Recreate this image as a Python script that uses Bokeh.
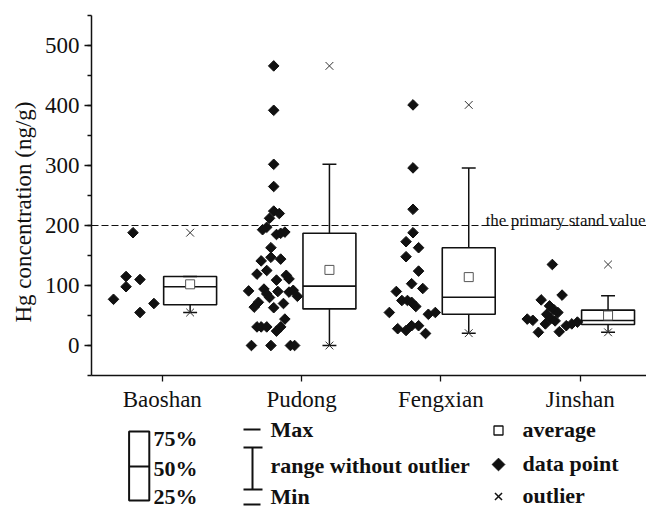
import numpy as np
from bokeh.plotting import figure
from bokeh.models import Range1d, FixedTicker, SingleIntervalTicker, Span, Label, Title
from bokeh.layouts import column
from bokeh.embed import file_html
from bokeh.resources import INLINE
from bokeh.core.properties import value

# ---------------- data ----------------
categories = ["Baoshan", "Pudong", "Fengxian", "Jinshan"]
positions = [1, 2, 3, 4]

baoshan_vals = [188, 115, 110, 98, 77, 70, 55]
baoshan_dx = [-0.21, -0.26, -0.16, -0.26, -0.35, -0.06, -0.16]

pudong_vals = [466, 392, 302, 265, 224, 220, 212, 197, 193, 185, 187, 189, 163,
               141, 147, 144, 125, 119, 109, 117, 111, 91, 94, 86, 80, 90, 89, 92,
               82, 72, 64, 63, 70, 44, 31, 24, 31, 31, 31, 0, 0, 0, 0]
pudong_dx = [-0.20, -0.20, -0.20, -0.20, -0.20, -0.16, -0.23, -0.25, -0.28, -0.18,
             -0.15, -0.12, -0.22, -0.29, -0.22, -0.15, -0.25, -0.32, -0.18, -0.11,
             -0.09, -0.38, -0.27, -0.25, -0.23, -0.17, -0.09, -0.06, -0.03, -0.31,
             -0.34, -0.20, -0.13, -0.12, -0.15, -0.18, -0.32, -0.29, -0.25, -0.36,
             -0.22, -0.08, -0.05]

fengxian_vals = [401, 296, 227, 188, 173, 148, 163, 124, 103, 95, 90, 75, 75, 72,
                 65, 55, 52, 55, 28, 25, 33, 33, 20]
fengxian_dx = [-0.20, -0.20, -0.20, -0.20, -0.25, -0.25, -0.16, -0.16, -0.21, -0.13,
               -0.32, -0.28, -0.24, -0.21, -0.18, -0.37, -0.09, -0.04, -0.31, -0.25,
               -0.21, -0.16, -0.11]

jinshan_vals = [135, 76, 84, 66, 60, 55, 52, 45, 41, 44, 42, 22, 23, 33, 36, 39, 36]
jinshan_dx = [-0.20, -0.28, -0.13, -0.22, -0.19, -0.16, -0.24, -0.21, -0.18, -0.38,
              -0.34, -0.30, -0.15, -0.10, -0.06, -0.02, -0.25]

q1 = [68, 61, 52, 35]
median = [98, 99, 80.5, 41.7]
q3 = [115, 187, 163, 59]
mean = [102, 126, 114, 50]
whisker_low = [55, 0, 20.5, 22]
whisker_high = [115, 302, 296, 83]
outlier_high = [188, 466, 401, 135]

standard_value = 200

# ---------------- styling ----------------
FONT = "Liberation Serif"
INK = "#111111"
box_shift = 0.2
box_half = 0.19
cap_half = 0.05

W = 646
LEFT = 91
p = figure(width=W, height=415, x_range=Range1d(0.492, 4.476), y_range=Range1d(-50, 550),
           toolbar_location=None, output_backend="svg",
           min_border_left=LEFT, min_border_right=0, min_border_top=15, min_border_bottom=40)
p.outline_line_color = None
p.xgrid.visible = False
p.ygrid.visible = False
p.background_fill_color = "white"

# data points
xs, ys = [], []
for pos, vals, dx in [(positions[0], baoshan_vals, baoshan_dx), (positions[1], pudong_vals, pudong_dx),
                      (positions[2], fengxian_vals, fengxian_dx), (positions[3], jinshan_vals, jinshan_dx)]:
    xs += [pos + d for d in dx]
    ys += vals
p.scatter(xs, ys, marker="square", size=7.5, angle=np.pi / 4, fill_color=INK, line_color=INK)

# box plots
bx = np.array(positions) + box_shift
p.quad(left=bx - box_half, right=bx + box_half, top=q3, bottom=q1,
       fill_color=None, line_color=INK, line_width=1.6)
p.segment(x0=bx - box_half, x1=bx + box_half, y0=median, y1=median, line_color=INK, line_width=1.6)
p.segment(x0=bx, x1=bx, y0=q3, y1=whisker_high, line_color=INK, line_width=1.5)
p.segment(x0=bx, x1=bx, y0=q1, y1=whisker_low, line_color=INK, line_width=1.5)
p.segment(x0=bx - cap_half, x1=bx + cap_half, y0=whisker_high, y1=whisker_high, line_color=INK, line_width=1.5)
p.segment(x0=bx - cap_half, x1=bx + cap_half, y0=whisker_low, y1=whisker_low, line_color=INK, line_width=1.5)
p.scatter(bx, mean, marker="square", size=9, fill_color="white", line_color="#555555", line_width=1)
p.scatter(bx, outlier_high, marker="x", size=11, line_color="#333333", line_width=1)
p.scatter(bx, whisker_low, marker="x", size=11, line_color="#333333", line_width=1)

# standard line
p.add_layout(Span(location=standard_value, dimension="width", line_color=INK,
                  line_dash="7 3", line_width=1.2))
p.add_layout(Label(x=4.47, y=208, text="the primary stand value", text_align="right",
                   text_baseline="alphabetic", text_font=FONT, text_font_size="17px",
                   text_color=INK))

# axes
p.yaxis.ticker = SingleIntervalTicker(interval=100, num_minor_ticks=2)
p.xaxis.ticker = FixedTicker(ticks=positions)
p.xaxis.major_label_overrides = {pos: cat for pos, cat in zip(positions, categories)}
for ax in (p.xaxis, p.yaxis):
    ax.axis_line_color = INK
    ax.axis_line_width = 1.5
    ax.major_tick_line_color = INK
    ax.major_tick_line_width = 1.3
    ax.minor_tick_line_color = INK
    ax.minor_tick_line_width = 1.3
    ax.major_tick_in = 0
    ax.minor_tick_in = 0
    ax.major_label_text_font = FONT
    ax.major_label_text_font_size = "23px"
    ax.major_label_text_color = INK
p.yaxis.major_tick_out = 7
p.yaxis.minor_tick_out = 4
p.yaxis.major_label_standoff = 5
p.xaxis.major_tick_out = 6
p.xaxis.minor_tick_line_color = None
p.xaxis.major_label_standoff = 5

# y axis title, placed (like the reference) slightly below the frame centre
p.add_layout(Title(text="Hg concentration (ng/g)", align="left", offset=53, standoff=11,
                   text_font=FONT, text_font_size="23px", text_font_style="normal",
                   text_color=INK), "left")

# ---------------- legend panel (frame aligned with main plot; page-pixel coordinates) ----------------
lf = figure(width=W, height=95, x_range=Range1d(LEFT, W), y_range=Range1d(510, 415),
            toolbar_location=None, output_backend="svg", x_axis_location=None,
            y_axis_location=None, min_border_left=LEFT, min_border_right=0,
            min_border_top=0, min_border_bottom=0)
lf.outline_line_color = None
lf.xgrid.visible = False
lf.ygrid.visible = False

LFONT = value(FONT)
LSIZE = "22px"
lf.quad(left=[128.6], right=[148.8], top=[431], bottom=[500], fill_color=None,
        line_color=INK, line_width=2)
lf.segment(x0=[128.6], x1=[148.8], y0=[466], y1=[466], line_color=INK, line_width=2)
lf.text(x=[153, 153, 153], y=[438, 468, 496], text=["75%", "50%", "25%"],
        text_font=LFONT, text_font_size=LSIZE, text_font_style="bold",
        text_baseline="middle", text_color=INK)

lf.segment(x0=[243, 243], x1=[260, 260], y0=[429, 504], y1=[429, 504], line_color=INK, line_width=2)
lf.segment(x0=[252], x1=[252], y0=[447], y1=[489], line_color=INK, line_width=2)
lf.segment(x0=[243, 243], x1=[262, 262], y0=[447, 489], y1=[447, 489], line_color=INK, line_width=2)
lf.text(x=[270, 270, 270], y=[429, 465, 496], text=["Max", "range without outlier", "Min"],
        text_font=LFONT, text_font_size=LSIZE, text_font_style="bold",
        text_baseline="middle", text_color=INK)

lf.scatter([498], [430], marker="square", size=9, fill_color="white", line_color=INK, line_width=1.3)
lf.scatter([498], [464], marker="square", size=9, angle=np.pi / 4, fill_color=INK, line_color=INK)
lf.scatter([498], [496], marker="x", size=10, line_color=INK, line_width=1.5)
lf.text(x=[522, 522, 522], y=[429, 463, 495], text=["average", "data point", "outlier"],
        text_font=LFONT, text_font_size=LSIZE, text_font_style="bold",
        text_baseline="middle", text_color=INK)

layout = column(p, lf, spacing=0)
open("out.html", "w").write(file_html(layout, INLINE))
